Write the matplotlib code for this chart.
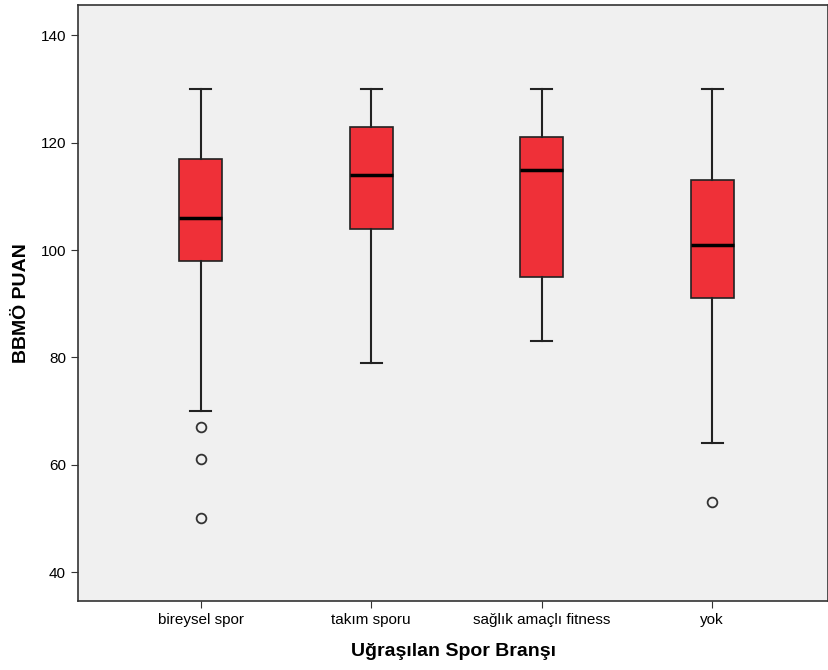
import matplotlib.pyplot as plt

plt.rcParams['font.family'] = ['Liberation Sans', 'DejaVu Sans']

groups = ['bireysel spor', 'takım sporu', 'sağlık amaçlı fitness', 'yok']
whislo = [70, 79, 83, 64]
q1 = [98, 104, 95, 91]
med = [106, 114, 115, 101]
q3 = [117, 123, 121, 113]
whishi = [130, 130, 130, 130]
outliers = [[67, 61, 50], [], [], [53]]

stats = []
for i in range(len(groups)):
    stats.append({'label': groups[i], 'whislo': whislo[i], 'q1': q1[i], 'med': med[i],
                  'q3': q3[i], 'whishi': whishi[i], 'fliers': outliers[i]})

fig = plt.figure(figsize=(8.29, 6.70), dpi=100)
ax = fig.add_axes([0.094, 0.103, 0.905, 0.889])
ax.set_facecolor('#f0f0f0')

ax.bxp(stats, positions=[1, 2, 3, 4], widths=0.25, patch_artist=True,
       boxprops={'facecolor': '#ef3038', 'edgecolor': '#222222', 'linewidth': 1.2},
       medianprops={'color': 'black', 'linewidth': 2.5},
       whiskerprops={'color': '#222222', 'linewidth': 1.5},
       capprops={'color': '#222222', 'linewidth': 1.5},
       capwidths=0.125,
       flierprops={'marker': 'o', 'markerfacecolor': 'none', 'markeredgecolor': '#333333',
                   'markersize': 7, 'markeredgewidth': 1.3})

ax.set_xlim(0.28, 4.68)
ax.set_ylim(34.6, 145.6)
ax.set_yticks([40, 60, 80, 100, 120, 140])
ax.tick_params(axis='both', labelsize=11, direction='out', length=5, color='#333333')
ax.set_xlabel('Uğraşılan Spor Branşı', fontsize=14, fontweight='bold', labelpad=12)
ax.set_ylabel('BBMÖ PUAN', fontsize=14, fontweight='bold', labelpad=8)
for s in ax.spines.values():
    s.set_color('#333333')
    s.set_linewidth(1.2)

fig.savefig('out.png', dpi=100)
